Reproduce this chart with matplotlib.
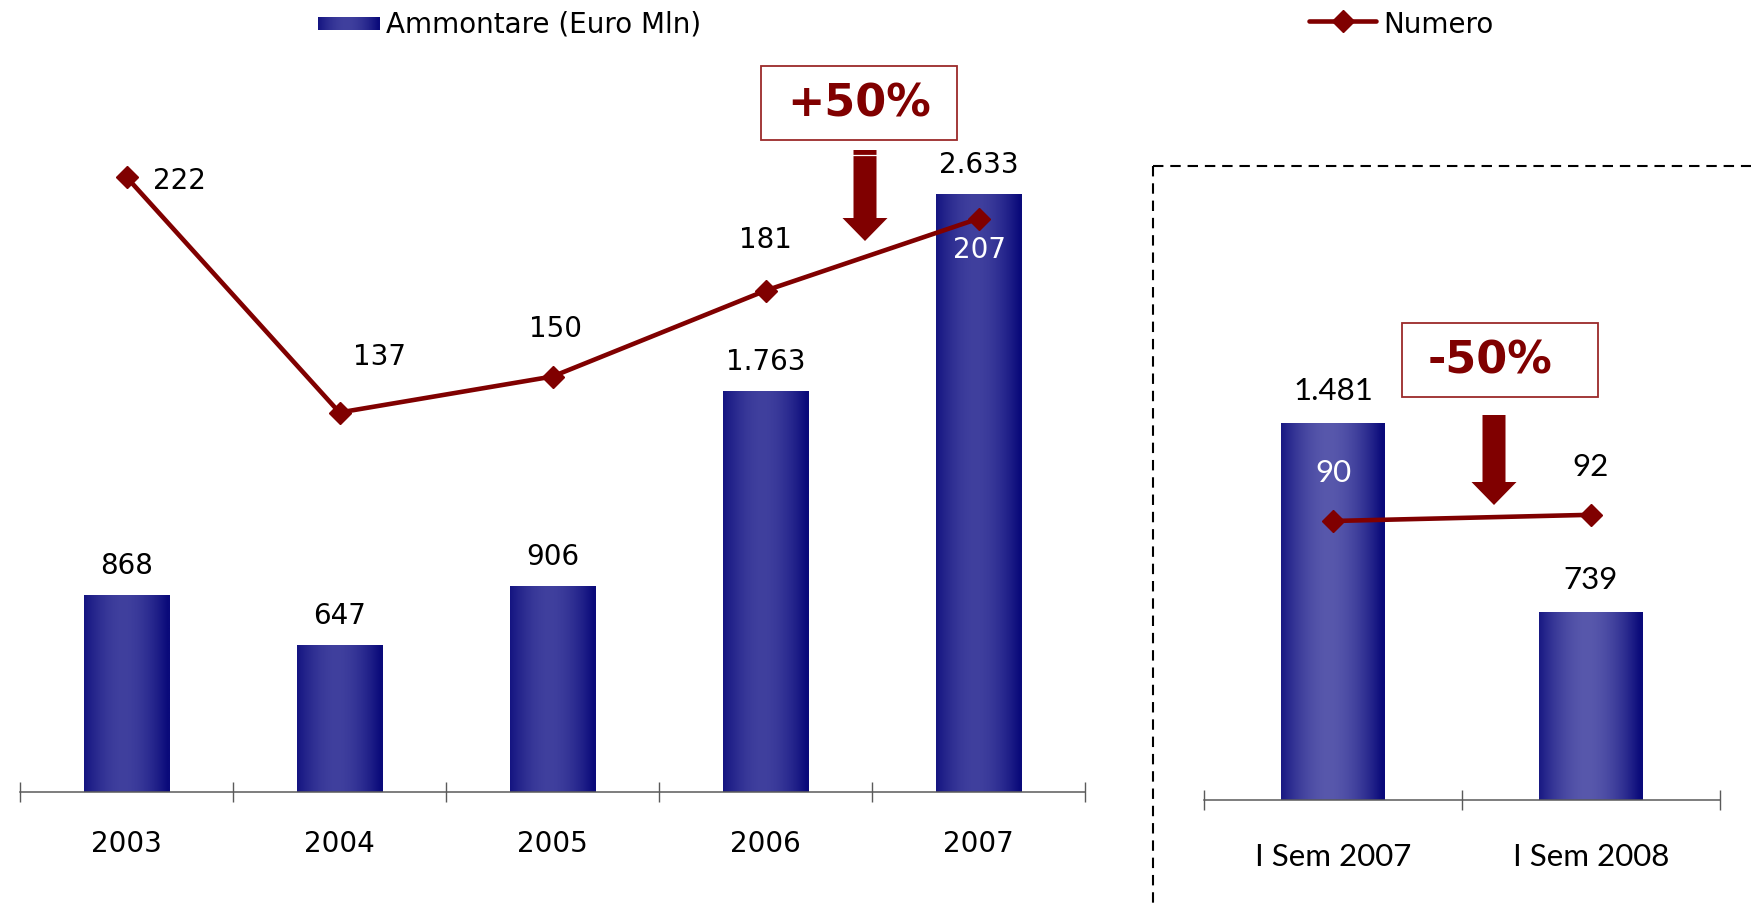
import numpy as np
import matplotlib.pyplot as plt
from matplotlib.patches import Rectangle, Polygon
from matplotlib.lines import Line2D
from matplotlib.transforms import Affine2D

W, H = 1751, 904

# data
years = ["2003", "2004", "2005", "2006", "2007"]
ammontare = [868, 647, 906, 1763, 2633]
ammontare_lbl = ["868", "647", "906", "1.763", "2.633"]
numero = [222, 137, 150, 181, 207]

semesters = ["I Sem 2007", "I Sem 2008"]
sem_ammontare = [1481, 739]
sem_ammontare_lbl = ["1.481", "739"]
sem_numero = [90, 92]

DARK_RED = "#800000"
NAVY = np.array([10, 10, 122]) / 255

fig = plt.figure(figsize=(W / 100, H / 100), dpi=100)
# pixel coords (origin top-left) -> figure
px = Affine2D().scale(1 / W, -1 / H).translate(0, 1) + fig.transFigure


def gradient(light, n=64):
    light = np.array(light) / 255
    t = np.linspace(0, 1, n)
    k = np.clip(1 - (np.abs(t - 0.46) / 0.52) ** 1.8, 0, 1)
    img = NAVY[None, :] + (light - NAVY)[None, :] * k[:, None]
    return img[None, :, :]


def gradient_bars(ax, bars, light):
    img = gradient(light)
    for b in bars:
        x0 = b.get_x()
        im = ax.imshow(img, extent=[x0, x0 + b.get_width(), 0, b.get_height()],
                       aspect="auto", interpolation="bilinear", zorder=2)
        im.set_clip_path(b)


def setup(ax, labels, font, size, pad):
    n = len(labels)
    for s in ["top", "left", "right"]:
        ax.spines[s].set_visible(False)
    ax.spines["bottom"].set_color("#5a5a5a")
    ax.spines["bottom"].set_linewidth(1.1)
    ax.set_yticks([])
    ax.set_xticks(np.arange(n + 1) - 0.5)
    ax.set_xticklabels([])
    ax.tick_params(axis="x", which="major", direction="inout", length=14,
                   width=1.0, color="#5a5a5a")
    ax.set_xticks(np.arange(n), minor=True)
    ax.set_xticklabels(labels, minor=True, fontsize=size, family=font)
    ax.tick_params(axis="x", which="minor", length=0, pad=pad)
    ax.patch.set_alpha(0)


# ---- left panel: yearly ----
ax1 = fig.add_axes([20 / W, 1 - 793 / H, 1065 / W, 753 / H])
x = np.arange(len(years))
bars = ax1.bar(x, ammontare, width=0.4, color=NAVY, linewidth=0, zorder=1)
gradient_bars(ax1, bars, (64, 64, 158))
ax1.set_xlim(-0.5, len(years) - 0.5)
ax1.set_ylim(0, 753 * 4.40)
setup(ax1, years, ["DejaVu Sans"], 20, 27)
for xi, v, lbl in zip(x, ammontare, ammontare_lbl):
    ax1.annotate(lbl, (xi, v), xytext=(0, 30), textcoords="offset pixels",
                 ha="center", va="center", fontsize=20)

ax1b = ax1.twinx()
ax1b.set_ylim(0, 753 / 2.77)
for s in ax1b.spines.values():
    s.set_visible(False)
ax1b.set_yticks([])
ax1b.plot(x, numero, color=DARK_RED, lw=3.3, marker="D", ms=11.5,
          markeredgecolor=DARK_RED, zorder=3)
line_off = [(53, -3), (40, 57), (3, 48), (0, 52), (1, -30)]
for xi, v, off in zip(x, numero, line_off):
    col = "white" if xi == x[-1] else "black"
    ax1b.annotate(str(v), (xi, v), xytext=off, textcoords="offset pixels",
                  ha="center", va="center", fontsize=20, color=col)

# ---- right panel: half-years ----
ax2 = fig.add_axes([1204 / W, 1 - 801 / H, 516 / W, 761 / H])
x2 = np.arange(len(semesters))
bars2 = ax2.bar(x2, sem_ammontare, width=0.4, color=NAVY, linewidth=0, zorder=1)
gradient_bars(ax2, bars2, (88, 88, 172))
ax2.set_xlim(-0.5, len(semesters) - 0.5)
ax2.set_ylim(0, 761 * 3.93)
setup(ax2, semesters, ["Lato", "DejaVu Sans"], 22.5, 30)
for xi, v, lbl in zip(x2, sem_ammontare, sem_ammontare_lbl):
    ax2.annotate(lbl, (xi, v), xytext=(0, 33), textcoords="offset pixels",
                 ha="center", va="center", fontsize=22.5, family=["Lato"])

ax2b = ax2.twinx()
ax2b.set_ylim(0, 761 / 3.1)
for s in ax2b.spines.values():
    s.set_visible(False)
ax2b.set_yticks([])
ax2b.plot(x2, sem_numero, color=DARK_RED, lw=3.3, marker="D", ms=11.5,
          markeredgecolor=DARK_RED, zorder=3)
for xi, v, col in zip(x2, sem_numero, ["white", "black"]):
    ax2b.annotate(str(v), (xi, v), xytext=(0, 49), textcoords="offset pixels",
                  ha="center", va="center", fontsize=22.5, color=col,
                  family=["Lato"])

# ---- dashed frame around the half-year panel ----
dash = dict(color="black", lw=1.5, linestyle=(0, (5, 3.3)), transform=px)
fig.add_artist(Line2D([1153, 1153], [167, 904], **dash))
fig.add_artist(Line2D([1153, 1751], [167, 167], **dash))

# ---- change boxes and arrows ----
for (bx, by, txt, tx) in [(761, 67, "+50%", 859), (1402, 324, "-50%", 1490)]:
    fig.add_artist(Rectangle((bx, by), 196, 74, fill=False, edgecolor="#9b2a2a",
                             lw=1.3, transform=px))
    fig.text(tx / W, 1 - (by + 37) / H, txt, ha="center", va="center",
             fontsize=32, fontweight="bold", color=DARK_RED)

for cx, top, neck, tip in [(865, 151, 219, 242), (1494, 416, 483, 506)]:
    pts = [(cx - 11.5, top), (cx + 11.5, top), (cx + 11.5, neck), (cx + 22.5, neck),
           (cx, tip), (cx - 22.5, neck), (cx - 11.5, neck)]
    fig.add_artist(Polygon(pts, closed=True, color=DARK_RED, lw=0, transform=px))
fig.add_artist(Line2D([853, 877], [156, 156], color="white", lw=0.9, transform=px))

# ---- legend ----
lax = fig.add_axes([318 / W, 1 - 31 / H, 62 / W, 13 / H])
lax.imshow(gradient((64, 64, 158)), aspect="auto", interpolation="bilinear")
lax.axis("off")
fig.text(386 / W, 1 - 25 / H, "Ammontare (Euro Mln)", ha="left", va="center",
         fontsize=20)
fig.add_artist(Line2D([1309, 1342.5, 1376], [22, 22, 22], color=DARK_RED, lw=3.3,
                      marker="D", ms=11.5, markevery=[1], solid_capstyle="round",
                      transform=px))
fig.text(1383 / W, 1 - 25 / H, "Numero", ha="left", va="center", fontsize=20)

fig.savefig("out.png", dpi=100)
